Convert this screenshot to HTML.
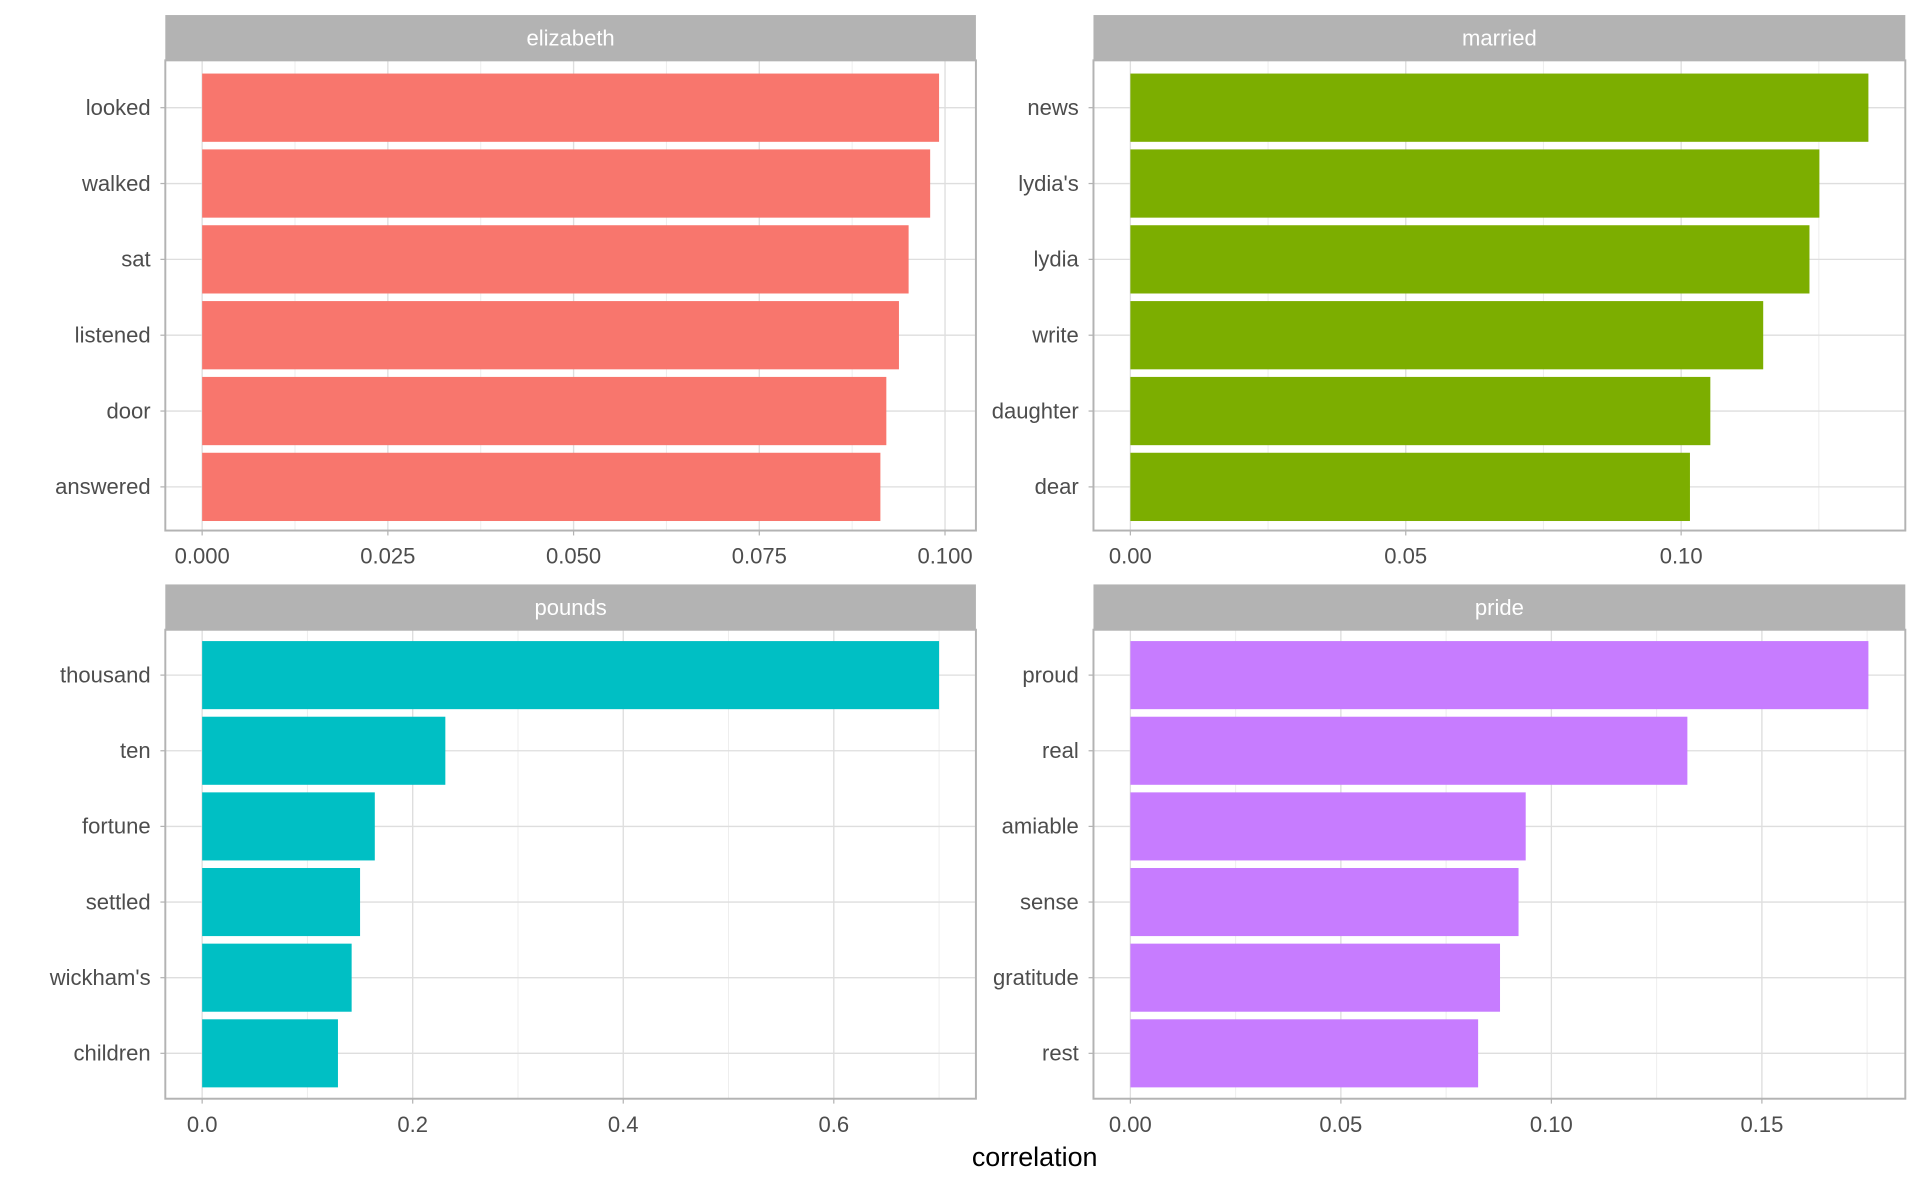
<!DOCTYPE html>
<html><head><meta charset="utf-8"><style>
html,body{margin:0;padding:0;background:#fff;}
svg{display:block;font-family:"Liberation Sans",Arial,sans-serif;}
</style></head><body>
<svg id="chart" width="1920" height="1186" viewBox="0 0 1568 968" xmlns="http://www.w3.org/2000/svg"></svg>
<script>
const titles = ["elizabeth","married","pounds","pride"];
const colors = ["#F8766D","#7CAE00","#00BFC4","#C77CFF"];
const wordsE = ["looked","walked","sat","listened","door","answered"];
const valsE = [0.0992,0.0980,0.0951,0.0938,0.0921,0.0913];
const wordsM = ["news","lydia's","lydia","write","daughter","dear"];
const valsM = [0.1340,0.1251,0.1233,0.1149,0.1053,0.1016];
const wordsP = ["thousand","ten","fortune","settled","wickham's","children"];
const valsP = [0.700,0.231,0.164,0.150,0.142,0.129];
const wordsR = ["proud","real","amiable","sense","gratitude","rest"];
const valsR = [0.1753,0.1323,0.0939,0.0922,0.0878,0.0826];
const ticksE = [0,0.025,0.05,0.075,0.1];
const tickLabE = ["0.000","0.025","0.050","0.075","0.100"];
const ticksM = [0,0.05,0.1];
const tickLabM = ["0.00","0.05","0.10"];
const ticksP = [0,0.2,0.4,0.6];
const tickLabP = ["0.0","0.2","0.4","0.6"];
const ticksR = [0,0.05,0.1,0.15];
const tickLabR = ["0.00","0.05","0.10","0.15"];

const NS="http://www.w3.org/2000/svg";
const svg=document.getElementById('chart');
function mk(tag,attrs,parent){const e=document.createElementNS(NS,tag);for(const k in attrs)e.setAttribute(k,attrs[k]);(parent||svg).appendChild(e);return e;}

const panels=[
 {x0:135,x1:797,y0:49,y1:433,off:1.5,words:wordsE,vals:valsE,ticks:ticksE,labs:tickLabE},
 {x0:893,x1:1556,y0:49,y1:433,off:1.5,words:wordsM,vals:valsM,ticks:ticksM,labs:tickLabM},
 {x0:135,x1:797,y0:514,y1:897,off:0,words:wordsP,vals:valsP,ticks:ticksP,labs:tickLabP},
 {x0:893,x1:1556,y0:514,y1:897,off:0,words:wordsR,vals:valsR,ticks:ticksR,labs:tickLabR}
];
panels.forEach((p,i)=>{
  const g=mk('g',{});
  
  
  const maxV=Math.max(...p.vals);
  const w=p.x1-p.x0;
  const lo=-0.05*maxV, hi=1.05*maxV;
  const xs=v=>p.x0+(v-lo)/(hi-lo)*w;
  const n=p.words.length;
  const h=p.y1-p.y0;
  const step=h/(n+0.2);
  const ys=k=>p.y0+p.off+step*(0.6+k);
  const st=p.ticks[1]-p.ticks[0];
  for(let v=st/2; v<=hi; v+=st){mk('line',{x1:xs(v),x2:xs(v),y1:p.y0,y2:p.y1,stroke:'#ededed','stroke-width':0.8},g);}
  p.ticks.forEach(v=>mk('line',{x1:xs(v),x2:xs(v),y1:p.y0,y2:p.y1,stroke:'#dedede','stroke-width':1.1},g));
  p.words.forEach((wd,k)=>mk('line',{x1:p.x0,x2:p.x1,y1:ys(k),y2:ys(k),stroke:'#dedede','stroke-width':1.1},g));
  p.words.forEach((wd,k)=>{
    const b=mk('rect',{x:xs(0),y:ys(k)-step*0.45,width:xs(p.vals[k])-xs(0),height:step*0.9,fill:colors[i]},g);
    
    
    const t=mk('text',{x:p.x0-12,y:ys(k)+6,'text-anchor':'end','font-size':18,fill:'#4d4d4d'},g);
    t.textContent=wd;
    
    
    mk('line',{x1:p.x0-4,x2:p.x0,y1:ys(k),y2:ys(k),stroke:'#b3b3b3'},g);
  });
  p.ticks.forEach((v,k)=>{
    mk('line',{x1:xs(v),x2:xs(v),y1:p.y1,y2:p.y1+4,stroke:'#b3b3b3'},g);
    const t=mk('text',{x:xs(v),y:p.y1+27,'text-anchor':'middle','font-size':18,fill:'#4d4d4d'},g);
    t.textContent=p.labs[k];
    
    
  });
  mk('rect',{x:p.x0,y:p.y0,width:w,height:h,fill:'none',stroke:'#b3b3b3','stroke-width':1.6},g);
  const s=mk('rect',{x:p.x0,y:p.y0-37,width:w,height:37,fill:'#b3b3b3'},g);
  
  
  const st2=mk('text',{x:p.x0+w/2,y:p.y0-12,'text-anchor':'middle','font-size':18,fill:'#ffffff'},g);
  st2.textContent=titles[i];
  
  
});
const xt=mk('text',{x:845,y:952,'text-anchor':'middle','font-size':22,fill:'#000'});
xt.textContent='correlation';


</script>
</body></html>
